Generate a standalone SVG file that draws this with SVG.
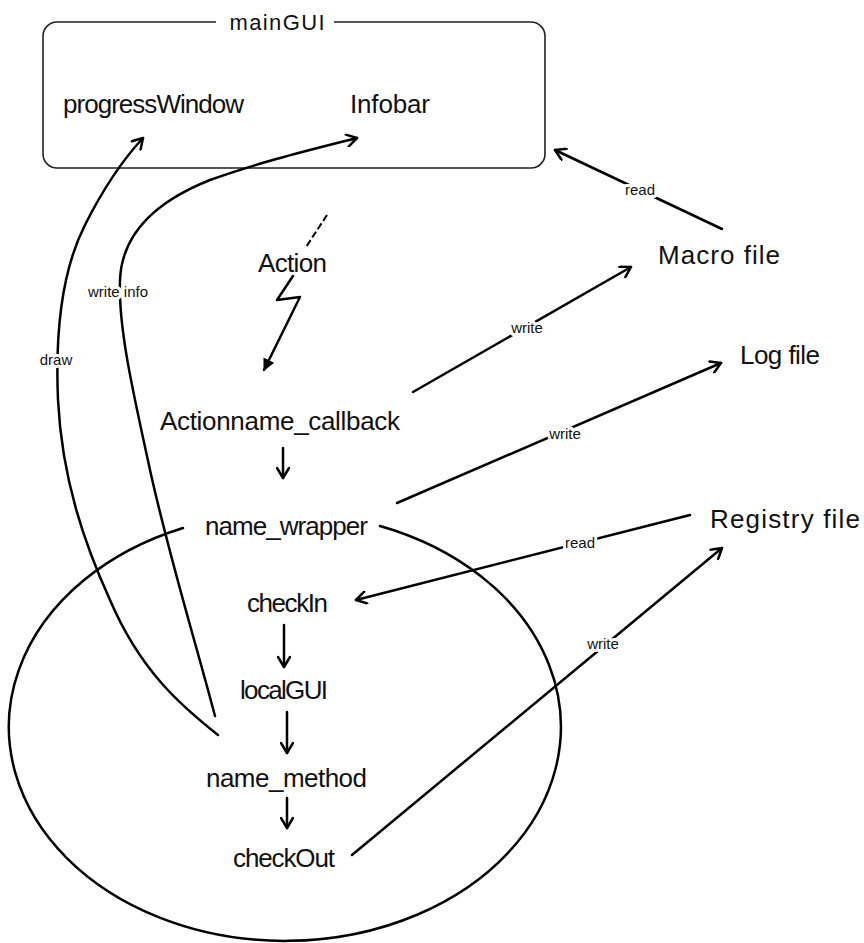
<svg xmlns="http://www.w3.org/2000/svg" width="864" height="943" viewBox="0 0 864 943">
<style>
text{font-family:"Liberation Sans","DejaVu Sans",sans-serif;fill:#111}
.n{font-size:26px}
.t{font-size:22px}
.l{font-size:15px;stroke:#fff;stroke-width:6px;paint-order:stroke;stroke-linejoin:round}
.c{fill:none;stroke:#000;stroke-width:2.5;stroke-linecap:round;stroke-linejoin:round}
</style>
<defs>
<marker id="ah" viewBox="0 0 14 14" refX="12" refY="7" markerWidth="14" markerHeight="14" markerUnits="userSpaceOnUse" orient="auto">
<path d="M2,1 L12,7 L2,13" fill="none" stroke="#000" stroke-width="2.5" stroke-linecap="round" stroke-linejoin="round"/>
</marker>
<marker id="fh" viewBox="0 0 12 12" refX="11" refY="6" markerWidth="12" markerHeight="12" markerUnits="userSpaceOnUse" orient="auto">
<path d="M0,0 L12,6 L0,12 Z" fill="#000"/>
</marker>
</defs>

<g id="mainGUI">
<rect x="43" y="22" width="502" height="146" rx="14" fill="none" stroke="#222" stroke-width="1.6"/>
<rect x="216" y="12" width="118" height="20" fill="#fff"/>
<text class="t" x="277" y="30" text-anchor="middle" textLength="95">mainGUI</text>
</g>
<g id="progressWindow"><text class="n" x="63" y="113" textLength="181">progressWindow</text></g>
<g id="Infobar"><text class="n" x="350" y="113" textLength="80">Infobar</text></g>
<g id="Action"><text class="n" x="258" y="272" textLength="69">Action</text></g>
<g id="MacroFile"><text class="n" x="658" y="264" textLength="122">Macro file</text></g>
<g id="LogFile"><text class="n" x="740" y="364" textLength="80">Log file</text></g>
<g id="RegistryFile"><text class="n" x="710" y="528" textLength="150">Registry file</text></g>
<g id="Actionname_callback"><text class="n" x="160" y="430" textLength="240">Actionname_callback</text></g>
<g id="name_wrapper"><text class="n" x="205" y="535" textLength="163">name_wrapper</text></g>
<g id="checkIn"><text class="n" x="247" y="612" textLength="81">checkIn</text></g>
<g id="localGUI"><text class="n" x="240" y="699" textLength="88">localGUI</text></g>
<g id="name_method"><text class="n" x="206" y="787" textLength="161">name_method</text></g>
<g id="checkOut"><text class="n" x="233" y="867" textLength="102">checkOut</text></g>

<g id="connectors">
<path class="c" d="M380,526 A276,214 0 1,1 183,528"/>
<line class="c" x1="283" y1="448" x2="283" y2="478" marker-end="url(#ah)"/>
<line class="c" x1="284" y1="625" x2="284" y2="667" marker-end="url(#ah)"/>
<line class="c" x1="287" y1="712" x2="287" y2="753" marker-end="url(#ah)"/>
<line class="c" x1="287" y1="798" x2="287" y2="828" marker-end="url(#ah)"/>
<line x1="327" y1="215" x2="306" y2="247" stroke="#000" stroke-width="2" stroke-dasharray="7,3"/>
<polyline class="c" points="293,276 277,300 300,297 264,370" marker-end="url(#fh)"/>
<path class="c" d="M218,735 C180,705 140,670 110,600 C85,545 62,480 58,400 C55,330 62,270 85,225 C100,195 118,165 143,138" marker-end="url(#ah)"/>
<path class="c" d="M215,716 C195,640 170,560 150,470 C135,400 118,330 120,280 C122,230 160,200 210,180 C260,162 310,150 357,138" marker-end="url(#ah)"/>
<line class="c" x1="722" y1="229" x2="555" y2="150" marker-end="url(#ah)"/>
<line class="c" x1="413" y1="392" x2="631" y2="267" marker-end="url(#ah)"/>
<line class="c" x1="397" y1="503" x2="721" y2="363" marker-end="url(#ah)"/>
<line class="c" x1="690" y1="515" x2="356" y2="600" marker-end="url(#ah)"/>
<line class="c" x1="352" y1="855" x2="722" y2="548" marker-end="url(#ah)"/>
<text class="l" x="640" y="195" text-anchor="middle">read</text>
<text class="l" x="527" y="333" text-anchor="middle">write</text>
<text class="l" x="565" y="439" text-anchor="middle">write</text>
<text class="l" x="580" y="548" text-anchor="middle">read</text>
<text class="l" x="603" y="649" text-anchor="middle">write</text>
<text class="l" x="56" y="365" text-anchor="middle">draw</text>
<text class="l" x="118" y="297" text-anchor="middle">write info</text>
</g>
</svg>
